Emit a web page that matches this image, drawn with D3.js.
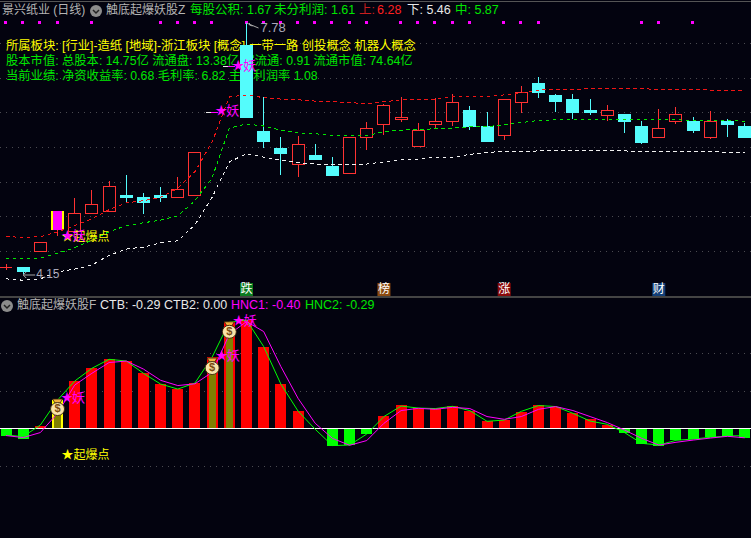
<!DOCTYPE html>
<html>
<head>
<meta charset="utf-8">
<script src="https://cdnjs.cloudflare.com/ajax/libs/d3/7.8.5/d3.min.js"></script>
<style>
  html, body { margin: 0; padding: 0; background: #03030f; overflow: hidden; }
  text { font-family: "Liberation Sans", "Noto Sans CJK SC", sans-serif; }
  line, .crisp { shape-rendering: crispEdges; }
</style>
</head>
<body>
<script>
// candles
var opens  = [4.24,4.24,4.47,4.79,4.76,5.02,5.05,5.29,5.26,5.28,5.25,5.29,6.49,7.15,7.46,6.21,5.97,5.73,5.86,5.70,5.60,6.12,6.31,6.39,5.99,6.31,6.35,6.51,6.29,6.16,6.63,6.90,6.73,6.68,6.52,6.44,6.45,6.29,6.12,6.36,6.36,6.12,6.36,6.28];
var closes = [4.24,4.19,4.61,5.06,5.02,5.16,5.41,5.26,5.18,5.25,5.37,5.90,6.49,7.15,6.42,6.07,5.89,6.03,5.80,5.58,6.13,6.26,6.58,6.42,6.23,6.35,6.63,6.28,6.07,6.68,6.78,6.77,6.64,6.49,6.49,6.51,6.36,6.05,6.26,6.45,6.23,6.35,6.31,6.13];
var highs  = [4.29,4.25,4.61,5.06,5.25,5.37,5.50,5.58,5.32,5.41,5.55,5.90,6.49,7.15,7.78,6.71,6.13,6.15,6.03,5.84,6.13,6.35,6.61,6.71,6.34,6.70,6.76,6.58,6.49,6.68,6.87,7.00,6.76,6.76,6.68,6.60,6.47,6.36,6.54,6.57,6.42,6.51,6.39,6.34];
var lows   = [4.21,4.15,4.47,4.70,4.76,5.02,5.05,5.18,5.02,5.19,5.25,5.29,6.49,7.15,6.42,5.97,5.58,5.55,5.80,5.58,5.60,5.95,6.16,6.35,5.99,6.26,6.29,6.23,6.06,6.09,6.48,6.70,6.49,6.39,6.45,6.36,6.19,6.03,6.12,6.32,6.19,6.10,6.13,6.12];

// channel lines on the price panel
var upper = [4.69,4.68,4.69,4.76,4.85,4.95,5.08,5.18,5.21,5.26,5.39,5.63,6.06,6.71,6.74,6.70,6.68,6.67,6.65,6.64,6.63,6.61,6.64,6.67,6.68,6.68,6.71,6.72,6.72,6.74,6.77,6.81,6.82,6.82,6.83,6.83,6.83,6.83,6.82,6.82,6.82,6.81,6.81,6.81];
var mid   = [4.38,4.37,4.38,4.45,4.53,4.64,4.76,4.85,4.89,4.93,4.99,5.21,5.54,6.26,6.32,6.29,6.23,6.19,6.18,6.15,6.15,6.15,6.21,6.23,6.24,6.25,6.26,6.28,6.28,6.31,6.34,6.37,6.38,6.38,6.39,6.39,6.39,6.38,6.38,6.38,6.37,6.37,6.37,6.36];
var lower = [4.08,4.06,4.08,4.18,4.22,4.28,4.42,4.51,4.54,4.60,4.63,4.86,5.26,5.77,5.89,5.84,5.80,5.76,5.74,5.73,5.73,5.74,5.77,5.80,5.81,5.84,5.84,5.88,5.91,5.92,5.92,5.93,5.93,5.94,5.94,5.94,5.93,5.92,5.92,5.92,5.92,5.92,5.91,5.91];

// indicator panel
var ctb  = [-0.29,-0.43,0.09,1.14,1.89,2.41,2.77,2.69,2.21,1.77,1.57,1.81,2.85,4.25,4.33,3.25,1.77,0.69,-0.04,-0.69,-0.67,-0.23,0.49,0.93,0.83,0.80,0.89,0.71,0.29,0.33,0.65,0.93,0.87,0.61,0.36,0.13,-0.19,-0.63,-0.71,-0.48,-0.44,-0.36,-0.32,-0.39];
var hnc1 = [-0.29,-0.37,-0.17,0.60,1.73,2.20,2.63,2.69,2.37,1.92,1.71,1.78,2.24,3.76,4.27,3.87,2.47,1.20,0.20,-0.40,-0.68,-0.49,0.20,0.71,0.80,0.76,0.84,0.79,0.47,0.36,0.47,0.76,0.87,0.71,0.47,0.23,-0.07,-0.40,-0.67,-0.56,-0.47,-0.39,-0.32,-0.38];
var hnc2 = [-0.27,-0.33,0.13,1.13,1.89,2.40,2.76,2.69,2.20,1.77,1.57,1.81,2.85,4.25,4.33,3.27,1.77,0.69,-0.04,-0.69,-0.67,-0.23,0.47,0.89,0.81,0.79,0.88,0.71,0.28,0.33,0.68,0.91,0.87,0.60,0.29,0.16,-0.17,-0.60,-0.67,-0.48,-0.43,-0.36,-0.31,-0.29];

// signals
var dotDays   = [0,1,2,3,5,9,10,11,12,14,15,16,17,18,19,20,21,23,24,25,26,27,29,30,31,37,38,40];
var yaoTopDays = [12,13];
var yaoLowDays = [3,12,13];
var yaoLowVals = [1.17,2.85,4.25];
var bagDays = [3,12,13];
var bagVals = [0.81,2.45,3.90];
var tagDays = [14,22,29,38];
var tagText = ["跌","榜","涨","财"];
var tagFill = ["#0b7a1e","#8a4a10","#8a0a0a","#123f78"];

var priceTicks = [4.48,4.99,5.48,5.99,6.49,6.99,7.49];
var indTicks = [3,1.5,-1.5];

var width = 751, height = 538;
var bg = "#03030f", cyan = "#54fcfc", red = "#ff3232", grey = "#b4b4b4";
var green = "#00e600", yellow = "#ffff00", magenta = "#ff00ff";

var x = d3.scaleLinear().domain([0, 43]).range([6, 744.7]);
var y = d3.scaleLinear().domain([4.15, 7.78]).range([274, 23]);
var yi = d3.scaleLinear().domain([0, 4]).range([428.3, 328.3]);

var svg = d3.select("body").append("svg").attr("width", width).attr("height", height)
  .style("display", "block");
svg.append("rect").attr("width", width).attr("height", height).attr("fill", bg);

// frame lines
svg.append("line").attr("x1", 0).attr("x2", width).attr("y1", 1).attr("y2", 1).attr("stroke", "#555");
svg.append("line").attr("x1", 0).attr("x2", width).attr("y1", 297).attr("y2", 297).attr("stroke", "#444").attr("stroke-width", 1.5);

function grid(scale, ticks) {
  var g = svg.append("g").call(d3.axisLeft(scale).tickValues(ticks).tickSize(-width).tickFormat(""));
  g.select(".domain").remove();
  g.selectAll("line").attr("stroke", "#4a4a50").attr("stroke-dasharray", "1 5");
}
grid(y, priceTicks);
grid(yi, indTicks);

function label(parent, str, px, py, color, size) {
  return parent.append("text").attr("x", px).attr("y", py).attr("fill", color)
    .attr("font-size", size || 12.5).attr("dominant-baseline", "middle").text(str);
}
function chevron(cx, cy) {
  svg.append("circle").attr("cx", cx).attr("cy", cy).attr("r", 6).attr("fill", "#8c8c8c");
  svg.append("path").attr("d", "M" + (cx - 3) + " " + (cy - 1) + "l3 3l3 -3").attr("fill", "none").attr("stroke", "#222").attr("stroke-width", 1.5);
}

// header row
label(svg, "景兴纸业 (日线)", 2, 10.5, grey, 12);
chevron(96, 11);
label(svg, "触底起爆妖股Z", 106, 10.5, grey, 12);
label(svg, "每股公积: 1.67", 190, 10.5, green);
label(svg, "未分利润: 1.61", 274, 10.5, green);
label(svg, "上: ", 359, 10.5, "#c81e1e");
label(svg, "6.28", 377, 10.5, "#ff2020");
label(svg, "下: 5.46", 407, 10.5, "#e8e8e8");
label(svg, "中: 5.87", 455, 10.5, green);

// info lines sit behind the candles
label(svg, "所属板块: [行业]-造纸 [地域]-浙江板块 [概念]-一带一路 创投概念 机器人概念", 6, 47, yellow, 12.3);
label(svg, "股本市值: 总股本: 14.75亿 流通盘: 13.38亿 实流通: 0.91 流通市值: 74.64亿", 6, 62, green, 12.3);
label(svg, "当前业绩:  净资收益率: 0.68 毛利率: 6.82 主营利润率 1.08", 6, 77, green, 12.3);

// top signal dots
svg.append("g").selectAll("rect").data(dotDays).enter().append("rect")
  .attr("class", "crisp")
  .attr("x", d => Math.round(x(d)) - 2).attr("y", y(7.78) - 2.5).attr("width", 3).attr("height", 3)
  .attr("fill", magenta);

// candles
var days = d3.range(opens.length);
var candles = svg.append("g");
candles.selectAll("line").data(days).enter().append("line")
  .attr("x1", d => x(d)).attr("x2", d => x(d))
  .attr("y1", d => y(highs[d])).attr("y2", d => y(lows[d]))
  .attr("stroke", d => closes[d] < opens[d] ? cyan : red)
  .attr("stroke-width", 1);
candles.selectAll("rect").data(days.filter(d => d !== 12 && d !== 13 && d !== 0)).enter().append("rect")
  .attr("class", "crisp")
  .attr("x", d => x(d) - 6).attr("width", 12)
  .attr("y", d => y(Math.max(opens[d], closes[d])))
  .attr("height", d => Math.max(1.5, Math.abs(y(opens[d]) - y(closes[d]))))
  .attr("fill", d => closes[d] < opens[d] ? cyan : bg)
  .attr("stroke", d => closes[d] < opens[d] ? cyan : red)
  .attr("stroke-width", 1);
// flat days: cross on the first, one-price bars on the limit-up days
candles.append("line").attr("x1", x(0) - 6).attr("x2", x(0) + 6).attr("y1", y(opens[0])).attr("y2", y(opens[0])).attr("stroke", red).attr("stroke-width", 1);
yaoTopDays.forEach(function(d) {
  candles.append("line").attr("x1", x(d) - 6).attr("x2", x(d) + 6).attr("y1", y(opens[d])).attr("y2", y(opens[d])).attr("stroke", "#e8e8e8").attr("stroke-width", 1);
  candles.append("line").attr("x1", x(d) - 1).attr("x2", x(d) + 6).attr("y1", y(opens[d])).attr("y2", y(opens[d])).attr("stroke", magenta).attr("stroke-width", 1);
});
// launch day candle is repainted yellow and magenta
candles.append("rect").attr("class", "crisp").attr("x", x(3) - 6.5).attr("width", 13).attr("y", y(closes[3])).attr("height", y(opens[3]) - y(closes[3])).attr("fill", yellow);
candles.append("rect").attr("class", "crisp").attr("x", x(3) - 4.5).attr("width", 9).attr("y", y(closes[3])).attr("height", y(opens[3]) - y(closes[3])).attr("fill", magenta);

// channel lines
var priceLine = d3.line().x((d, i) => x(i)).y(d => y(d));
[[upper, "#f01414"], [mid, "#00e600"], [lower, "#f0f0f0"]].forEach(function(s) {
  svg.append("path").attr("class", "crisp").attr("d", priceLine(s[0])).attr("fill", "none").attr("stroke", s[1])
    .attr("stroke-width", 1).attr("stroke-dasharray", "3.5 3.5");
});

// price extremes
var hi = d3.max(highs), lo = d3.min(lows);
svg.append("path").attr("d", "M" + x(14) + " " + y(hi) + "l12 5m-9 -3l0 -2m0 2l3 1").attr("fill", "none").attr("stroke", "#a8a8a8");
label(svg, d3.format(".2f")(hi), x(14) + 14, y(hi) + 6, "#a8a8b8", 13);
svg.append("path").attr("d", "M" + x(1) + " " + (y(lo) + 1) + "l12 0m-12 0l3 -3m-3 3l3 3").attr("fill", "none").attr("stroke", "#a8a8a8");
label(svg, d3.format(".2f")(lo), x(1) + 13, y(lo) + 1, "#a8a8b8", 12);

// star labels
function yao(px, py) {
  var t = svg.append("text").attr("x", px).attr("y", py).attr("fill", magenta).attr("font-size", 13).attr("dominant-baseline", "middle");
  t.append("tspan").attr("font-size", 12).text("★");
  t.append("tspan").attr("dx", -1).text("妖");
}
yaoTopDays.forEach(d => yao(x(d) + 3, y(opens[d])));
label(svg, "★起爆点", x(3) + 4, y(4.68), yellow, 12);
yao(x(3) + 4, y(4.68));

// tags
tagDays.forEach(function(d, i) {
  svg.append("rect").attr("x", x(d) - 6.5).attr("y", 283).attr("width", 13).attr("height", 13).attr("fill", tagFill[i]);
  svg.append("text").attr("x", x(d)).attr("y", 289.5).attr("fill", "#fff").attr("font-size", 12)
    .attr("text-anchor", "middle").attr("dominant-baseline", "middle").text(tagText[i]);
});

// indicator header
chevron(7, 306);
label(svg, "触底起爆妖股F", 17, 306, grey, 12);
label(svg, "CTB: -0.29", 100, 306, "#e8e8e8");
label(svg, "CTB2: 0.00", 164, 306, "#e8e8e8");
label(svg, "HNC1: -0.40", 231, 306, magenta);
label(svg, "HNC2: -0.29", 305, 306, green);

// histogram
svg.append("g").selectAll("rect").data(days).enter().append("rect")
  .attr("class", "crisp")
  .attr("x", d => x(d) - 5.5).attr("width", 11)
  .attr("y", d => Math.min(yi(ctb[d]), yi(0)))
  .attr("height", d => Math.abs(yi(ctb[d]) - yi(0)))
  .attr("fill", d => d === 3 ? yellow : ctb[d] < 0 ? "#00ff00" : "#ff0000");
svg.append("g").selectAll("rect").data(bagDays).enter().append("rect")
  .attr("class", "crisp")
  .attr("x", d => x(d) - 3.5).attr("width", 7)
  .attr("y", (d, i) => yi(bagVals[i]))
  .attr("height", (d, i) => yi(0) - yi(bagVals[i]))
  .attr("fill", "#808000");
svg.append("line").attr("x1", 0).attr("x2", width).attr("y1", yi(0)).attr("y2", yi(0)).attr("stroke", "#fff").attr("stroke-width", 1.5);

var indLine = d3.line().x((d, i) => x(i)).y(d => yi(d));
svg.append("path").attr("d", indLine(hnc2)).attr("fill", "none").attr("stroke", "#00ff00").attr("stroke-width", 1);
svg.append("path").attr("d", indLine(hnc1)).attr("fill", "none").attr("stroke", magenta).attr("stroke-width", 1);

// money bags and star labels on the indicator
bagDays.forEach(function(d, i) {
  var g = svg.append("g").attr("transform", "translate(" + x(d) + "," + yi(bagVals[i]) + ")");
  g.append("path").attr("d", "M-5 -9L5 -9L2.5 -5L-2.5 -5Z").attr("fill", "#f0b040").attr("stroke", "#3a2408").attr("stroke-width", 0.8);
  g.append("ellipse").attr("cy", 1).attr("rx", 7).attr("ry", 6.5).attr("fill", "#f8e4a8").attr("stroke", "#3a2408").attr("stroke-width", 0.9);
  g.append("text").attr("y", 1.5).attr("text-anchor", "middle").attr("dominant-baseline", "middle")
    .attr("font-size", 11).attr("font-weight", "bold").attr("fill", "#7a4a10").text("$");
});
yaoLowDays.forEach((d, i) => yao(x(d) + 3.5, yi(yaoLowVals[i])));
label(svg, "★起爆点", x(3) + 4, yi(-1.1), yellow, 12);
</script>
</body>
</html>
